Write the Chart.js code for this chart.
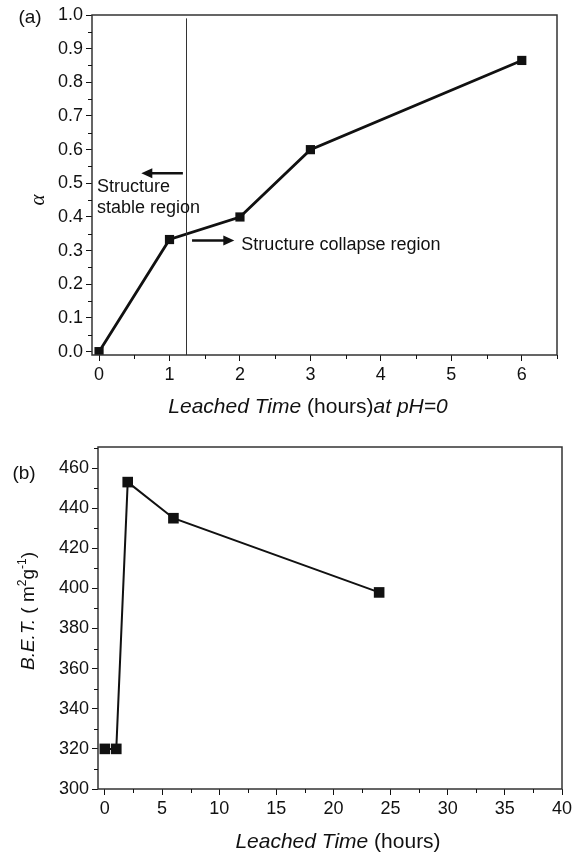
<!DOCTYPE html>
<html>
<head>
<meta charset="utf-8">
<script src="https://cdn.jsdelivr.net/npm/chart.js@4.4.1/dist/chart.umd.min.js"></script>
<style>
    html, body { margin: 0; padding: 0; background: #fff; }
    body { width: 584px; height: 852px; position: relative; overflow: hidden; font-family: "Liberation Sans", Arial, sans-serif; color: #111; }
    .box { position: absolute; left: 0; width: 584px; }
    #boxA { top: 0; height: 430px; }
    #boxB { top: 430px; height: 422px; }
    .lbl { position: absolute; white-space: nowrap; line-height: 1; transform: translate(-50%, -50%); }
    .ttl { font-size: 19px; }
    .big { font-size: 21px; }
    .it { font-style: italic; }
    .rot { transform: translate(-50%, -50%) rotate(-90deg); }
    sup { font-size: 12px; vertical-align: 8px; line-height: 0; }
</style>
</head>
<body>
<div id="boxA" class="box"><canvas id="chartA"></canvas></div>
<div id="boxB" class="box"><canvas id="chartB"></canvas></div>

<div class="lbl ttl" style="left:30px; top:16px;">(a)</div>
<div class="lbl ttl" style="left:24px; top:472px;">(b)</div>

<div class="lbl rot" style="left:37px; top:200px; font: italic 21px 'Liberation Serif', serif;">α</div>
<div class="lbl big" style="left:308px; top:405px;"><span class="it">Leached Time</span> (hours)<span class="it">at pH=0</span></div>

<div class="lbl ttl rot" style="left:27px; top:611px;"><span class="it">B.E.T.</span> ( m<sup>2</sup>g<sup>-1</sup>)</div>
<div class="lbl big" style="left:338px; top:840px;"><span class="it">Leached Time</span> (hours)</div>

<script>
// (a) degree of leaching vs time at pH=0
const timeA = [0, 1, 2, 3, 6];
const alphaA = [0, 0.333, 0.40, 0.60, 0.865];
const xTicksA = [0, 1, 2, 3, 4, 5, 6];
const yTicksA = [0, 0.1, 0.2, 0.3, 0.4, 0.5, 0.6, 0.7, 0.8, 0.9, 1.0];

// (b) BET surface area vs time
const timeB = [0, 1, 2, 6, 24];
const betB = [320, 320, 453, 435, 398];
const xTicksB = [0, 5, 10, 15, 20, 25, 30, 35, 40];
const yTicksB = [300, 320, 340, 360, 380, 400, 420, 440, 460];

// annotations of panel (a), in data units
const boundaryA = 1.24;
const notesA = [
    { text: 'Structure', x: -0.03, y: 0.488 },
    { text: 'stable region', x: -0.03, y: 0.426 },
    { text: 'Structure collapse region', x: 2.02, y: 0.318 }
];
const arrowsA = [
    { from: [1.19, 0.53], to: [0.60, 0.53] },
    { from: [1.32, 0.33], to: [1.92, 0.33] }
];

const FONT = 'Liberation Sans';
const INK = '#111';

// box frame + half-step minor ticks on bottom/left axes
const frameMinor = {
    id: 'frameMinor',
    afterDraw(chart) {
        const { ctx, chartArea: a, scales } = chart;
        ctx.save();
        ctx.strokeStyle = '#333';
        ctx.lineWidth = 1.5;
        ctx.strokeRect(a.left, a.top, a.right - a.left, a.bottom - a.top);

        ctx.strokeStyle = INK;
        ctx.lineWidth = 1;
        const halfSteps = (s) => {
            const t = s.ticks.map(k => k.value);
            const step = t[1] - t[0];
            const out = [];
            for (let v = t[0] - step / 2; v <= s.max + 1e-9; v += step) {
                if (v >= s.min - 1e-9) out.push(v);
            }
            return out;
        };
        ctx.beginPath();
        halfSteps(scales.x).forEach(v => {
            const px = Math.round(scales.x.getPixelForValue(v)) + 0.5;
            ctx.moveTo(px, a.bottom);
            ctx.lineTo(px, a.bottom + 4);
        });
        halfSteps(scales.y).forEach(v => {
            const py = Math.round(scales.y.getPixelForValue(v)) + 0.5;
            ctx.moveTo(a.left, py);
            ctx.lineTo(a.left - 4, py);
        });
        ctx.stroke();
        ctx.restore();
    }
};

// vertical boundary, arrows and notes for panel (a)
const notesPlugin = {
    id: 'notesA',
    afterDatasetsDraw(chart) {
        const { ctx, chartArea: a, scales: { x, y } } = chart;
        ctx.save();
        ctx.strokeStyle = '#333';
        ctx.lineWidth = 1;
        const bx = Math.round(x.getPixelForValue(boundaryA)) + 0.5;
        ctx.beginPath();
        ctx.moveTo(bx, y.getPixelForValue(0.99));
        ctx.lineTo(bx, a.bottom);
        ctx.stroke();

        ctx.strokeStyle = INK;
        ctx.fillStyle = INK;
        ctx.lineWidth = 2.5;
        arrowsA.forEach(ar => {
            const x0 = x.getPixelForValue(ar.from[0]), y0 = y.getPixelForValue(ar.from[1]);
            const x1 = x.getPixelForValue(ar.to[0]), y1 = y.getPixelForValue(ar.to[1]);
            const dir = Math.sign(x1 - x0);
            ctx.beginPath();
            ctx.moveTo(x0, y0);
            ctx.lineTo(x1 - dir * 8, y1);
            ctx.stroke();
            ctx.beginPath();
            ctx.moveTo(x1, y1);
            ctx.lineTo(x1 - dir * 11, y1 - 5);
            ctx.lineTo(x1 - dir * 11, y1 + 5);
            ctx.closePath();
            ctx.fill();
        });

        ctx.font = '18px ' + FONT;
        ctx.textBaseline = 'middle';
        ctx.textAlign = 'left';
        notesA.forEach(n => ctx.fillText(n.text, x.getPixelForValue(n.x), y.getPixelForValue(n.y)));
        ctx.restore();
    }
};

function axis(ticks, min, max, fmt, fit) {
    return {
        type: 'linear',
        min: min,
        max: max,
        afterBuildTicks: s => { s.ticks = ticks.map(v => ({ value: v })); },
        afterFit: fit,
        border: { display: false },
        grid: { display: true, drawOnChartArea: false, drawTicks: true, tickLength: 6, color: INK },
        ticks: { color: INK, font: { family: FONT, size: 18 }, padding: 3, autoSkip: false, maxRotation: 0, callback: fmt }
    };
}

function makeChart(id, xs, ys, opt) {
    return new Chart(document.getElementById(id), {
        type: 'line',
        data: {
            datasets: [{
                data: xs.map((v, i) => ({ x: v, y: ys[i] })),
                borderColor: INK,
                backgroundColor: INK,
                borderWidth: opt.lineWidth,
                pointStyle: 'rect',
                pointRadius: opt.pointRadius,
                pointBorderWidth: 0,
                tension: 0
            }]
        },
        options: {
            responsive: true,
            maintainAspectRatio: false,
            animation: false,
            layout: { padding: opt.padding },
            plugins: { legend: { display: false }, tooltip: { enabled: false } },
            scales: { x: opt.x, y: opt.y }
        },
        plugins: opt.plugins
    });
}

makeChart('chartA', timeA, alphaA, {
    lineWidth: 2.8,
    pointRadius: 6.5,
    padding: { top: 15, right: 27, left: 0, bottom: 0 },
    x: axis(xTicksA, -0.1, 6.5, v => String(v), s => { s.height = 75; }),
    y: axis(yTicksA, -0.01, 1.0, v => v.toFixed(1), s => { s.width = 92; }),
    plugins: [frameMinor, notesPlugin]
});

makeChart('chartB', timeB, betB, {
    lineWidth: 2,
    pointRadius: 7.5,
    padding: { top: 17, right: 22, left: 0, bottom: 0 },
    x: axis(xTicksB, -0.6, 40, v => String(v), s => { s.height = 63; }),
    y: axis(yTicksB, 300, 470.5, v => String(v), s => { s.width = 98; }),
    plugins: [frameMinor]
});
</script>
</body>
</html>
